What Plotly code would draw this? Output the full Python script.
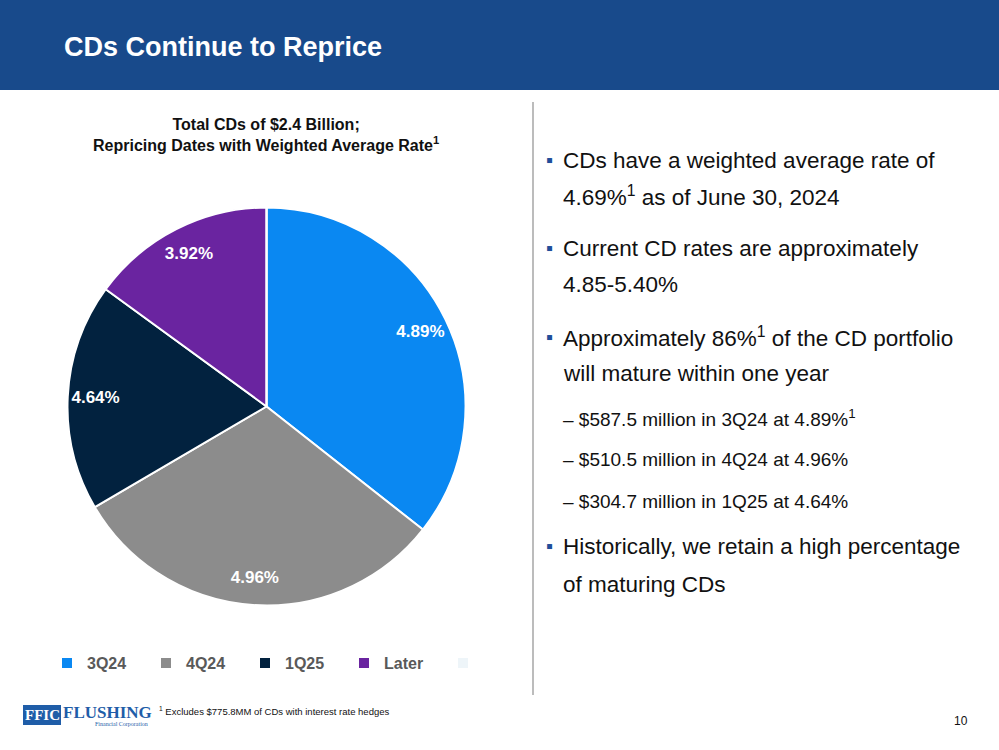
import plotly.graph_objects as go

W, H = 999, 750

# ---- data ----
quarters = ["3Q24", "4Q24", "1Q25", "Later", " "]
amounts_mm = [587.5, 510.5, 304.7, 247.0, 0.0]
rates = ["4.89%", "4.96%", "4.64%", "3.92%", ""]
slice_colors = ["#0A88F2", "#8C8C8C", "#02223F", "#6A24A0", "#EEF5F9"]

chart_title = ["Total CDs of $2.4 Billion;", "Repricing Dates with Weighted Average Rate<sup>1</sup>"]
bullets = [
    ("main", "CDs have a weighted average rate of"),
    ("cont", "4.69%<sup>1</sup> as of June 30, 2024"),
    ("main", "Current CD rates are approximately"),
    ("cont", "4.85-5.40%"),
    ("main", "Approximately 86%<sup>1</sup> of the CD portfolio"),
    ("cont", "will mature within one year"),
    ("sub", "– $587.5 million in 3Q24 at 4.89%<sup>1</sup>"),
    ("sub", "– $510.5 million in 4Q24 at 4.96%"),
    ("sub", "– $304.7 million in 1Q25 at 4.64%"),
    ("main", "Historically, we retain a high percentage"),
    ("cont", "of maturing CDs"),
]
bullet_y = [160, 196, 248, 284, 337, 374, 418, 460, 501, 546, 584]
footnote = "<sup>1</sup> Excludes $775.8MM of CDs with interest rate hedges"
page_title = "CDs Continue to Reprice"
page_no = "10"

SANS = "Liberation Sans, Arial, sans-serif"
SERIF = "Liberation Serif, Times New Roman, serif"


def px(x):
    return x / W


def py(y):
    return 1 - y / H


fig = go.Figure()

cx, cy, r = 266.5, 406.5, 199
dom = dict(x=[px(cx - r), px(cx + r)], y=[py(cy + r), py(cy - r)])

# slices
fig.add_trace(go.Pie(
    labels=quarters,
    values=amounts_mm,
    textinfo="none",
    marker=dict(colors=slice_colors, line=dict(color="white", width=2)),
    sort=False,
    direction="clockwise",
    rotation=0,
    hoverinfo="label+value",
    domain=dom,
))
# rate labels, placed in the outer ring of the same slices
fig.add_trace(go.Pie(
    labels=quarters,
    values=amounts_mm,
    text=rates,
    textinfo="text",
    textposition="inside",
    insidetextorientation="horizontal",
    textfont=dict(family=SANS, size=17, color="white", weight="bold"),
    marker=dict(colors=["rgba(0,0,0,0)"] * len(quarters), line=dict(width=0)),
    hole=0.72,
    sort=False,
    direction="clockwise",
    rotation=0,
    showlegend=False,
    hoverinfo="skip",
    domain=dom,
))

shapes = [
    dict(type="rect", xref="paper", yref="paper", x0=0, x1=1, y0=py(90), y1=1,
         fillcolor="#184A8B", line=dict(width=0), layer="below"),
    dict(type="line", xref="paper", yref="paper", x0=px(533), x1=px(533), y0=py(102), y1=py(695),
         line=dict(color="#A6A6A6", width=1.5)),
    dict(type="rect", xref="paper", yref="paper", x0=px(23), x1=px(61), y0=py(725), y1=py(705),
         fillcolor="#1F5DA8", line=dict(width=0)),
]

ann = []
ann.append(dict(text=page_title, x=px(62), y=py(47), xanchor="left", yanchor="middle",
                font=dict(family=SANS, size=27, color="white", weight="bold")))
ann.append(dict(text="<br>".join(chart_title), x=px(266), y=py(135), xanchor="center", yanchor="middle",
                font=dict(family=SANS, size=16, color="#111111", weight="bold"), align="center"))

for (kind, txt), yy in zip(bullets, bullet_y):
    if kind == "main":
        ann.append(dict(text="▪", x=px(544), y=py(yy), xanchor="left", yanchor="middle",
                        font=dict(family=SANS, size=20, color="#1F4E9A")))
    size = 19 if kind == "sub" else 22.5
    ann.append(dict(text=txt, x=px(561), y=py(yy), xanchor="left", yanchor="middle",
                    font=dict(family=SANS, size=size, color="#111111")))

ann.append(dict(text=footnote, x=px(157), y=py(711), xanchor="left", yanchor="middle",
                font=dict(family=SANS, size=9.5, color="#111111")))
ann.append(dict(text=page_no, x=px(970), y=py(721), xanchor="right", yanchor="middle",
                font=dict(family=SANS, size=12, color="#111111")))
ann.append(dict(text="FFIC", x=px(42), y=py(715), xanchor="center", yanchor="middle",
                font=dict(family=SERIF, size=15, color="white", weight="bold")))
ann.append(dict(text="FLUSHING", x=px(61), y=py(712), xanchor="left", yanchor="middle",
                font=dict(family=SERIF, size=17, color="#1F5DA8", weight="bold")))
ann.append(dict(text="Financial Corporation", x=px(150), y=py(723.5), xanchor="right", yanchor="middle",
                font=dict(family=SERIF, size=6, color="#1F5DA8")))

for a in ann:
    a.update(xref="paper", yref="paper", showarrow=False)

fig.update_layout(
    width=W, height=H,
    margin=dict(l=0, r=0, t=0, b=0),
    paper_bgcolor="white", plot_bgcolor="white",
    shapes=shapes, annotations=ann,
    showlegend=True,
    legend=dict(orientation="h", x=px(47), y=py(663), xanchor="left", yanchor="middle",
                font=dict(family=SANS, size=16, color="#595959", weight="bold"),
                entrywidth=54, entrywidthmode="pixels", itemwidth=30,
                bgcolor="rgba(0,0,0,0)", traceorder="normal"),
)

fig.write_html("out.html", config={"displayModeBar": False},
               post_script="document.body.style.margin='0px';")
